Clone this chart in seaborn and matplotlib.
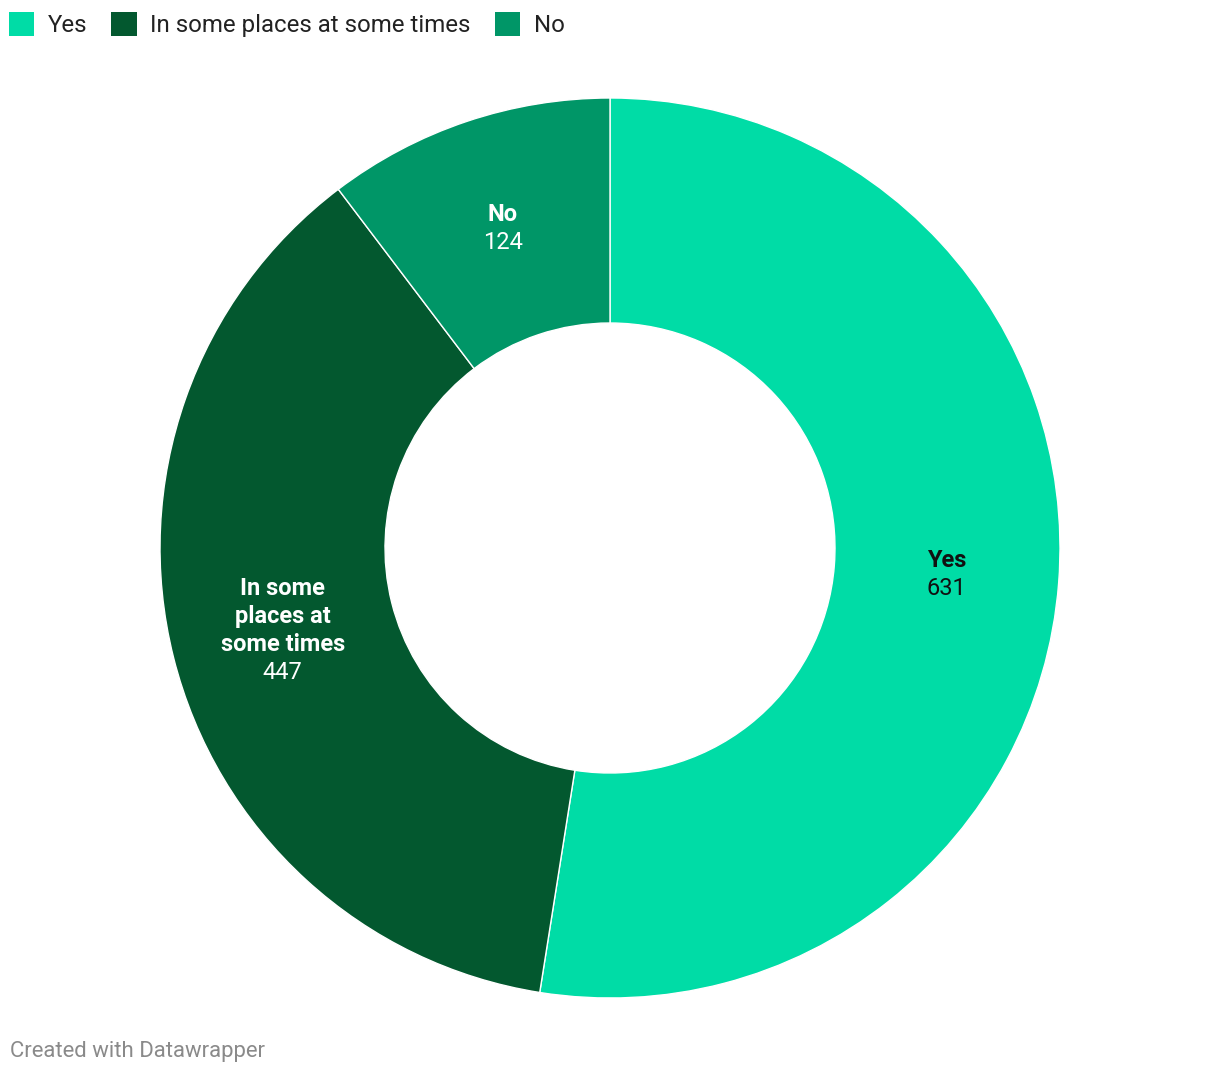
import matplotlib
matplotlib.use("Agg")
import matplotlib.pyplot as plt
import matplotlib.patches as mpatches
import seaborn as sns
import numpy as np

categories = ["Yes", "In some places at some times", "No"]
label_texts = ["Yes", "In some\nplaces at\nsome times", "No"]
values = [631, 447, 124]
colors = ["#00dca6", "#03582f", "#009667"]
text_colors = ["#111111", "white", "white"]

sns.set_theme(style="white")
plt.rcParams['font.family'] = ['Roboto', 'DejaVu Sans']

W, H = 1220, 1074
fig = plt.figure(figsize=(W / 100, H / 100), dpi=100)
cx, cy, R = 610, 548, 450
ax = fig.add_axes([(cx - R) / W, (H - cy - R) / H, 2 * R / W, 2 * R / H])
pal = sns.color_palette(colors)

wedges, _ = ax.pie(values, colors=pal, startangle=90, counterclock=False,
                   radius=1.0, wedgeprops=dict(width=0.5, edgecolor="white", linewidth=1))
ax.set_xlim(-1, 1)
ax.set_ylim(-1, 1)
ax.set_aspect("equal")
ax.axis("off")

total = sum(values)
start = 90.0
rmid = 0.75
lh = 28 / R
for v, lt, tc in zip(values, label_texts, text_colors):
    span = v / total * 360
    mid = np.deg2rad(start - span / 2)
    start -= span
    x, y = rmid * np.cos(mid), rmid * np.sin(mid)
    lines = lt.split("\n") + [str(v)]
    n = len(lines)
    for i, ln in enumerate(lines):
        yy = y + lh * ((n - 1) / 2 - i)
        ax.text(x, yy, ln, ha="center", va="center", fontsize=17,
                fontweight="bold" if i < n - 1 else "normal", color=tc)

handles = [mpatches.Patch(facecolor=c, edgecolor="none") for c in pal]
leg = fig.legend(handles, categories, loc="upper left", bbox_to_anchor=(-7 / W, 1 + 4 / H),
                 ncol=3, frameon=False, fontsize=17.3, handlelength=1.05, handleheight=1.17,
                 handletextpad=0.58, columnspacing=1.0, borderaxespad=0.25)
for t in leg.get_texts():
    t.set_color("#222222")

fig.text(10 / W, 1 - 1051 / H, "Created with Datawrapper", ha="left", va="center",
         fontsize=15.9, color="#8a8a8a")

fig.savefig("out.png", dpi=100, facecolor="white")
